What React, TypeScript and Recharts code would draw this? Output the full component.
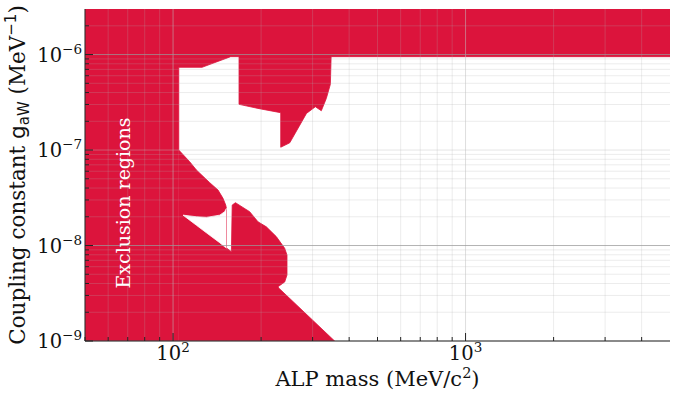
import React from "react";
import { ComposedChart, Area, XAxis, YAxis, ReferenceLine } from "recharts";

const CRIMSON = "#dc143c";
const SERIF = "'DejaVu Serif', serif";
const SANS = "'DejaVu Sans', sans-serif";

const massRange = [50, 5000];
const couplingRange = [1e-9, 3e-6];

// upper excluded region: its lower edge, filled up to the top of the plot
const upperMass = [50, 104.6, 104.6, 125.6, 157.4, 168.1, 168.1, 195, 233.4, 233.4, 250.6, 285.9, 306.6, 321.3, 334.2, 345, 347.1, 5000];
const upperEdge = [1e-9, 1e-9, 7.35e-7, 7.35e-7, 9.5e-7, 9.5e-7, 3.01e-7, 2.73e-7, 2.46e-7, 1.07e-7, 1.19e-7, 2.42e-7, 2.84e-7, 2.58e-7, 3.47e-7, 4.88e-7, 9.5e-7, 9.5e-7];

// lower excluded region: its upper edge, filled down to the bottom
const lowerMass = [104.6, 114, 120.2, 133.5, 142.5, 148.2, 151.4, 152.2, 152.2, 158.3, 159.3, 163.4, 182.8, 195.2, 208.4, 225.4, 240.8, 245.2, 245.2, 240.8, 228.4, 229.7, 356.7];
const lowerEdge = [1.0e-7, 7.54e-8, 6.17e-8, 4.55e-8, 3.81e-8, 3.12e-8, 2.65e-8, 2.45e-8, 9.44e-9, 8.61e-9, 2.65e-8, 2.81e-8, 2.26e-8, 1.77e-8, 1.57e-8, 1.24e-8, 9.35e-9, 7.95e-9, 4.91e-9, 4.15e-9, 3.7e-9, 3.59e-9, 1e-9];

// allowed pocket cut into the lower region
const pocketMass = [108.2, 120.2, 130, 144.4, 150.2, 152.2];
const pocketLow = [2.08e-8, 1.63e-8, 1.36e-8, 1.07e-8, 9.7e-9, 9.44e-9];
const pocketHigh = [2.08e-8, 2.0e-8, 1.97e-8, 2.08e-8, 2.26e-8, 2.45e-8];

const majorMass = [100, 1000];
const minorMass = [50, 60, 70, 80, 90, 200, 300, 400, 500, 600, 700, 800, 900, 2000, 3000, 4000];
const majorCoupling = [1e-9, 1e-8, 1e-7, 1e-6];
const minorCoupling = [
  2e-9, 3e-9, 4e-9, 5e-9, 6e-9, 7e-9, 8e-9, 9e-9,
  2e-8, 3e-8, 4e-8, 5e-8, 6e-8, 7e-8, 8e-8, 9e-8,
  2e-7, 3e-7, 4e-7, 5e-7, 6e-7, 7e-7, 8e-7, 9e-7,
  2e-6,
];
const darkCoupling = [1e-8, 1e-6];

const upperData = upperMass.map((m, i) => ({ mass: m, band: [upperEdge[i], couplingRange[1]] }));
const lowerData = lowerMass.map((m, i) => ({ mass: m, band: [couplingRange[0], lowerEdge[i]] }));
const pocketData = pocketMass.map((m, i) => ({ mass: m, band: [pocketLow[i], pocketHigh[i]] }));

const isMajor = (list: number[], v: number) => list.some((m) => Math.abs(m - v) / m < 1e-6);
const exponent = (v: number) => Math.round(Math.log10(v));

const MassTick = ({ x, y, payload }: any) => {
  const v = payload.value;
  const major = isMajor(majorMass, v);
  return (
    <g>
      <line x1={x} x2={x} y1={y} y2={y - (major ? 8 : 4)} stroke="#222" strokeWidth={1} />
      {major && (
        <text x={x} y={y + 19} textAnchor="middle" fontFamily={SERIF} fontSize={19.5} fill="#111">
          10<tspan dy={-8} fontSize={13.5}>{exponent(v)}</tspan>
        </text>
      )}
    </g>
  );
};

const CouplingTick = ({ x, y, payload }: any) => {
  const v = payload.value;
  const major = isMajor(majorCoupling, v);
  return (
    <g>
      <line x1={x} x2={x + (major ? 8 : 4)} y1={y} y2={y} stroke="#222" strokeWidth={1} />
      {major && (
        <text x={x - 3} y={y + 7} textAnchor="end" fontFamily={SERIF} fontSize={19.5} fill="#111">
          10<tspan dy={-8} fontSize={13.5}>{"\u2212" + Math.abs(exponent(v))}</tspan>
        </text>
      )}
    </g>
  );
};

const XTitle = ({ viewBox }: any) => {
  const { x, y, width } = viewBox;
  return (
    <text x={x + width / 2} y={y + 45} textAnchor="middle" fontFamily={SERIF} fontSize={21} fill="#111">
      ALP mass (MeV/c<tspan dy={-8} fontSize={14.5}>2</tspan>
      <tspan dy={8}>)</tspan>
    </text>
  );
};

const YTitle = ({ viewBox }: any) => {
  const { x, y, height } = viewBox;
  const cx = x + 25;
  const cy = y + height / 2;
  return (
    <text x={cx} y={cy} transform={`rotate(-90 ${cx} ${cy})`} textAnchor="middle" fontFamily={SERIF} fontSize={21.5} fill="#111">
      Coupling constant <tspan fontFamily={SANS}>g</tspan>
      <tspan fontFamily={SANS} fontSize={15} dy={4}>aW</tspan>
      <tspan dy={-4}> (MeV</tspan>
      <tspan fontFamily={SANS} fontSize={15} dy={-9}>{"\u22121"}</tspan>
      <tspan dy={9}>)</tspan>
    </text>
  );
};

export default function App() {
  return (
    <div style={{ position: "absolute", left: 0, top: 0, width: 675, height: 397, background: "#fff" }}>
      <ComposedChart width={675} height={397} margin={{ top: 9, right: 5, bottom: 0, left: 0 }}>
        <XAxis
          dataKey="mass"
          type="number"
          scale="log"
          domain={massRange}
          allowDataOverflow
          ticks={[...minorMass, ...majorMass]}
          interval={0}
          tick={<MassTick />}
          tickLine={false}
          tickSize={0}
          tickMargin={0}
          height={56}
          axisLine={{ stroke: "#222" }}
          label={<XTitle />}
        />
        <XAxis xAxisId="top" orientation="top" type="number" scale="log" domain={massRange} allowDataOverflow height={0} tick={false} tickLine={false} axisLine={{ stroke: "#222" }} />
        <YAxis
          type="number"
          scale="log"
          domain={couplingRange}
          allowDataOverflow
          ticks={[...minorCoupling, ...majorCoupling]}
          interval={0}
          tick={<CouplingTick />}
          tickLine={false}
          tickSize={0}
          tickMargin={0}
          width={85}
          axisLine={{ stroke: "#222" }}
          label={<YTitle />}
        />
        <YAxis yAxisId="right" orientation="right" type="number" scale="log" domain={couplingRange} allowDataOverflow width={0} tick={false} tickLine={false} axisLine={{ stroke: "#222" }} />

        <Area data={upperData} dataKey="band" type="linear" fill={CRIMSON} fillOpacity={1} stroke={CRIMSON} strokeWidth={0.8} isAnimationActive={false} />
        <Area data={lowerData} dataKey="band" type="linear" fill={CRIMSON} fillOpacity={1} stroke={CRIMSON} strokeWidth={0.8} isAnimationActive={false} />
        <Area data={pocketData} dataKey="band" type="linear" fill="#fff" fillOpacity={1} stroke="#fff" strokeWidth={0.8} isAnimationActive={false} />

        {minorMass.map((v) => (
          <ReferenceLine key={"mx" + v} x={v} stroke="#b0b0b0" strokeOpacity={0.24} />
        ))}
        {minorCoupling.map((v) => (
          <ReferenceLine key={"my" + v} y={v} stroke="#b0b0b0" strokeOpacity={0.24} />
        ))}
        {majorMass.map((v) => (
          <ReferenceLine key={"Mx" + v} x={v} stroke="#bfbfbf" strokeOpacity={0.53} />
        ))}
        {majorCoupling.map((v) => (
          <ReferenceLine
            key={"My" + v}
            y={v}
            stroke={isMajor(darkCoupling, v) ? "#9a9a9a" : "#bfbfbf"}
            strokeOpacity={isMajor(darkCoupling, v) ? 0.75 : 0.4}
          />
        ))}
      </ComposedChart>
      <div
        style={{
          position: "absolute",
          left: 123,
          top: 203,
          transform: "translate(-50%, -50%) rotate(-90deg)",
          color: "#fff",
          fontFamily: SERIF,
          fontSize: 19,
          whiteSpace: "nowrap",
          lineHeight: 1,
        }}
      >
        Exclusion regions
      </div>
    </div>
  );
}
